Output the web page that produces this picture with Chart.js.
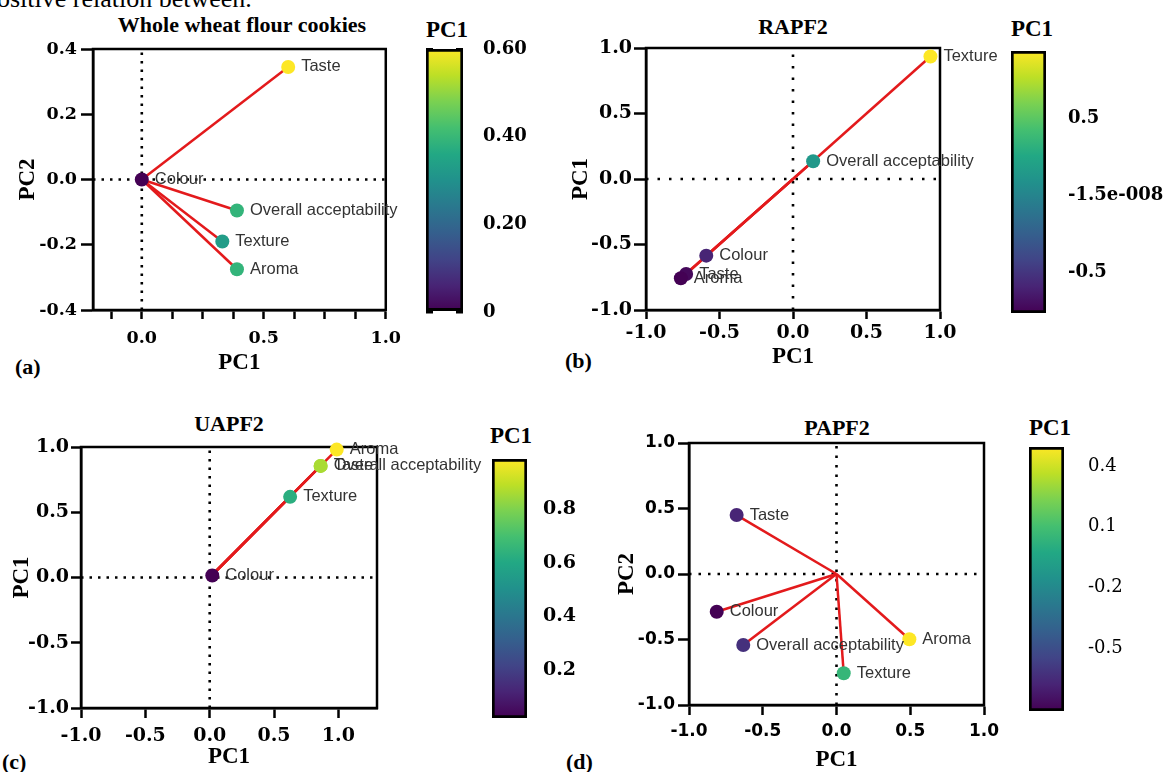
<!DOCTYPE html>
<html lang="en">
<head>
<meta charset="UTF-8">
<title>PCA loading plots</title>
<script src="https://cdn.jsdelivr.net/npm/chart.js@4"></script>
<style>
  body { margin: 0; background: #fff; }
  #page { position: relative; width: 1167px; height: 772px; overflow: hidden; background: #fff; }
  canvas { position: absolute; }
  .txt { position: absolute; white-space: nowrap; color: #000; line-height: 1; }
  .sb { font-family: 'Liberation Serif', 'Times New Roman', serif; font-weight: bold; }
  .ctr { transform: translateX(-50%); }
</style>
</head>
<body>
<div id="page">
  <div class="txt" style="left:-3px; top:-14px; font-family:'Liberation Serif', serif; font-size:26px;">ositive relation between.</div>

  <div class="txt sb ctr" style="left:242px; top:14px; font-size:22px;">Whole wheat flour cookies</div>
  <div class="txt sb ctr" style="left:793px; top:16px; font-size:22px;">RAPF2</div>
  <div class="txt sb ctr" style="left:229px; top:413px; font-size:22px;">UAPF2</div>
  <div class="txt sb ctr" style="left:837px; top:417px; font-size:22px;">PAPF2</div>

  <div class="txt sb ctr" style="left:447px; top:18px; font-size:23px;">PC1</div>
  <div class="txt sb ctr" style="left:1032px; top:17px; font-size:23px;">PC1</div>
  <div class="txt sb ctr" style="left:511px; top:424px; font-size:23px;">PC1</div>
  <div class="txt sb ctr" style="left:1050px; top:416px; font-size:23px;">PC1</div>

  <div class="txt sb" style="left:15px; top:356px; font-size:22px;">(a)</div>
  <div class="txt sb" style="left:565px; top:350px; font-size:22px;">(b)</div>
  <div class="txt sb" style="left:2px; top:751px; font-size:22px;">(c)</div>
  <div class="txt sb" style="left:566px; top:751px; font-size:22px;">(d)</div>

  <canvas id="plotA" width="410" height="380" style="left:0px; top:0px"></canvas>
  <canvas id="barA" width="160" height="380" style="left:410px; top:0px"></canvas>
  <canvas id="plotB" width="470" height="380" style="left:540px; top:0px"></canvas>
  <canvas id="barB" width="167" height="380" style="left:1000px; top:0px"></canvas>
  <canvas id="plotC" width="490" height="382" style="left:0px; top:390px"></canvas>
  <canvas id="barC" width="130" height="382" style="left:480px; top:390px"></canvas>
  <canvas id="plotD" width="440" height="382" style="left:580px; top:390px"></canvas>
  <canvas id="barD" width="147" height="382" style="left:1020px; top:390px"></canvas>
</div>

<script>
  // (a) Whole wheat flour cookies
  const aNames = ['Taste', 'Colour', 'Overall acceptability', 'Texture', 'Aroma'];
  const aPC1 = [0.60, 0.00, 0.39, 0.33, 0.39];
  const aPC2 = [0.345, 0.00, -0.095, -0.19, -0.275];
  const aXTicks = [-0.125, 0, 0.125, 0.25, 0.375, 0.5, 0.625, 0.75, 0.875, 1.0];
  const aXLabels = ['', '0.0', '', '', '', '0.5', '', '', '', '1.0'];
  const aYTicks = [-0.4, -0.2, 0, 0.2, 0.4];
  const aYLabels = ['-0.4', '-0.2', '0.0', '0.2', '0.4'];
  const aBarTicks = [0, 0.2, 0.4, 0.6];
  const aBarLabels = ['0', '0.20', '0.40', '0.60'];

  // (b) RAPF2
  const bNames = ['Texture', 'Overall acceptability', 'Colour', 'Taste', 'Aroma'];
  const bX = [0.935, 0.137, -0.59, -0.727, -0.763];
  const bY = [0.935, 0.136, -0.585, -0.725, -0.758];
  const bBarTicks = [-0.5, -1.5e-8, 0.5];
  const bBarLabels = ['-0.5', '-1.5e-008', '0.5'];

  // (c) UAPF2
  const cNames = ['Aroma', 'Taste', 'Overall acceptability', 'Texture', 'Colour'];
  const cX = [0.987, 0.862, 0.862, 0.625, 0.02];
  const cY = [0.98, 0.855, 0.855, 0.618, 0.015];
  const cBarTicks = [0.2, 0.4, 0.6, 0.8];
  const cBarLabels = ['0.2', '0.4', '0.6', '0.8'];

  // (d) PAPF2
  const dNames = ['Taste', 'Colour', 'Overall acceptability', 'Aroma', 'Texture'];
  const dPC1 = [-0.677, -0.812, -0.632, 0.494, 0.049];
  const dPC2 = [0.45, -0.288, -0.542, -0.498, -0.758];
  const dBarTicks = [-0.5, -0.2, 0.1, 0.4];
  const dBarLabels = ['-0.5', '-0.2', '0.1', '0.4'];

  // shared axis ticks for the -1..1 plots
  const unitTicks = [-1, -0.5, 0, 0.5, 1];
  const unitLabels = ['-1.0', '-0.5', '0.0', '0.5', '1.0'];

  const viridisStops = ['#440154', '#482475', '#414487', '#355f8d', '#2a788e', '#21918c',
                        '#22a884', '#44bf70', '#7ad151', '#bddf26', '#fde725'];

  function hexRgb(h) {
    return [1, 3, 5].map(i => parseInt(h.slice(i, i + 2), 16));
  }

  function viridis(t) {
    t = Math.min(1, Math.max(0, t));
    const s = t * 10;
    const i = Math.min(9, Math.floor(s));
    const f = s - i;
    const a = hexRgb(viridisStops[i]), b = hexRgb(viridisStops[i + 1]);
    const c = a.map((v, k) => Math.round(v + (b[k] - v) * f));
    return 'rgb(' + c.join(',') + ')';
  }

  function barGradient(ctx) {
    const area = ctx.chart.chartArea;
    if (!area) return '#21918c';
    const g = ctx.chart.ctx.createLinearGradient(0, area.bottom, 0, area.top);
    viridisStops.forEach((c, i) => g.addColorStop(i / 10, c));
    return g;
  }

  const titleFont = { family: "'Liberation Serif', 'Times New Roman', serif", weight: 'bold', size: 23, lineHeight: 1 };
  const labelFont = '16.5px "Liberation Sans", Arial, sans-serif';

  // box round the plot area
  const framePlugin = {
    id: 'frame',
    beforeDatasetsDraw(chart) {
      const { ctx, chartArea: a } = chart;
      ctx.save();
      ctx.strokeStyle = '#000';
      ctx.lineWidth = 2.5;
      ctx.strokeRect(a.left, a.top, a.right - a.left, a.bottom - a.top);
      ctx.restore();
    }
  };

  // variable names next to the points
  const pointLabelPlugin = {
    id: 'pointLabels',
    afterDatasetsDraw(chart) {
      const ds = chart.data.datasets[0];
      const meta = chart.getDatasetMeta(0);
      const ctx = chart.ctx;
      ctx.save();
      ctx.font = labelFont;
      ctx.fillStyle = '#333';
      ctx.textAlign = 'left';
      ctx.textBaseline = 'middle';
      meta.data.forEach((el, i) => ctx.fillText(ds.names[i], el.x + 13, el.y));
      ctx.restore();
    }
  };

  function axis(o) {
    return {
      type: 'linear',
      position: o.position,
      min: o.min,
      max: o.max,
      bounds: 'data',
      afterBuildTicks: sc => { sc.ticks = o.ticks.map(v => ({ value: v })); },
      afterFit: sc => {
        if (o.position === 'left') sc.width = o.size; else sc.height = o.size;
      },
      ticks: {
        autoSkip: false, maxRotation: 0, minRotation: 0,
        color: '#000', padding: o.pad, font: o.font,
        callback: (v, i) => o.labels[i]
      },
      grid: { drawOnChartArea: false, drawTicks: true, tickLength: o.tickLength, tickColor: '#000', tickWidth: 2.5 },
      border: { display: true, color: '#000', width: 2.5 },
      title: {
        display: true, text: o.title, color: '#000', font: titleFont,
        padding: o.position === 'left' ? { top: o.titlePad, bottom: 0 } : { top: 0, bottom: o.titlePad }
      }
    };
  }

  function loadingPlot(id, s) {
    const lo = Math.min(...s.x), hi = Math.max(...s.x);
    const colours = s.x.map(v => viridis((v - lo) / (hi - lo)));
    const pts = s.x.map((x, i) => ({ x: x, y: s.y[i] }));
    const rays = pts.map(p => ({
      data: [{ x: 0, y: 0 }, p], showLine: true, borderColor: '#e31a1c', borderWidth: 2.5,
      pointRadius: 0, clip: false
    }));
    const dotted = [
      [{ x: s.xAxis.min, y: 0 }, { x: s.xAxis.max, y: 0 }],
      [{ x: 0, y: s.yAxis.min }, { x: 0, y: s.yAxis.max }]
    ].map(d => ({
      data: d, showLine: true, borderColor: '#000', borderWidth: 2.6,
      borderDash: s.dash, pointRadius: 0, clip: false
    }));

    new Chart(document.getElementById(id), {
      type: 'scatter',
      data: {
        datasets: [{
          data: pts, names: s.names, pointBackgroundColor: colours,
          pointBorderWidth: 0, pointRadius: 7, pointHoverRadius: 7, clip: false
        }, ...rays, ...dotted]
      },
      options: {
        responsive: false,
        animation: false,
        events: [],
        layout: { padding: s.pad },
        plugins: { legend: { display: false }, tooltip: { enabled: false } },
        scales: {
          x: axis(Object.assign({ position: 'bottom', title: 'PC1' }, s.xAxis)),
          y: axis(Object.assign({ position: 'left' }, s.yAxis))
        }
      },
      plugins: [framePlugin, pointLabelPlugin]
    });
  }

  function colourBar(id, o) {
    const lo = Math.min(...o.values), hi = Math.max(...o.values);
    new Chart(document.getElementById(id), {
      type: 'bar',
      data: {
        labels: ['PC1'],
        datasets: [{
          data: [[lo, hi]], backgroundColor: barGradient, borderColor: '#000',
          borderWidth: 3, borderSkipped: false, barPercentage: 1, categoryPercentage: 1
        }]
      },
      options: {
        responsive: false,
        animation: false,
        events: [],
        layout: { padding: o.pad },
        plugins: { legend: { display: false }, tooltip: { enabled: false } },
        scales: {
          x: { display: false },
          y: {
            position: 'right', min: lo, max: hi, bounds: 'data', beginAtZero: false, z: 1,
            afterBuildTicks: sc => { sc.ticks = o.ticks.map(v => ({ value: v })); },
            afterFit: sc => { sc.width = o.axisWidth; },
            ticks: { color: '#000', padding: o.labelPad, font: o.font, autoSkip: false, callback: (v, i) => o.labels[i] },
            grid: { drawOnChartArea: true, drawTicks: false, color: '#000', lineWidth: 2.5 },
            border: { display: false, dash: [7, o.barWidth - 14] }
          }
        }
      }
    });
  }

  const serifBold17 = { family: "'DejaVu Serif', serif", weight: 'bold', size: 17.5 };
  const serifBold18 = { family: "'DejaVu Serif', serif", weight: 'bold', size: 18 };
  const serifBold19 = { family: "'DejaVu Serif', serif", weight: 'bold', size: 19 };
  const sansBold17 = { family: "'DejaVu Sans', sans-serif", weight: 'bold', size: 17 };
  const serif18 = { family: "'DejaVu Serif', serif", weight: 'normal', size: 18 };

  loadingPlot('plotA', {
    names: aNames, x: aPC1, y: aPC2, dash: [2.5, 6],
    pad: { top: 49, right: 22, left: 0, bottom: 0 },
    xAxis: { min: -0.2, max: 1.0, ticks: aXTicks, labels: aXLabels, size: 70, tickLength: 9, pad: 9, font: serifBold17, titlePad: 5.5 },
    yAxis: { min: -0.4, max: 0.4, ticks: aYTicks, labels: aYLabels, size: 93, tickLength: 12, pad: 4, font: serifBold17, title: 'PC2', titlePad: 16.5 }
  });
  colourBar('barA', {
    values: aPC1, ticks: aBarTicks, labels: aBarLabels, font: serifBold18,
    pad: { left: 16, top: 49, right: 0, bottom: 68 }, axisWidth: 107, barWidth: 37, labelPad: 20
  });

  loadingPlot('plotB', {
    names: bNames, x: bX, y: bY, dash: [2.5, 9],
    pad: { top: 48, right: 70, left: 0, bottom: 0 },
    xAxis: { min: -1, max: 1, ticks: unitTicks, labels: unitLabels, size: 70, tickLength: 9, pad: 3, font: serifBold19, titlePad: 11.5 },
    yAxis: { min: -1, max: 1, ticks: unitTicks, labels: unitLabels, size: 106, tickLength: 12, pad: 2, font: serifBold19, title: 'PC1', titlePad: 29.5 }
  });
  colourBar('barB', {
    values: bX, ticks: bBarTicks, labels: bBarLabels, font: serifBold18,
    pad: { left: 11, top: 51, right: 0, bottom: 67 }, axisWidth: 121, barWidth: 35, labelPad: 22
  });

  loadingPlot('plotC', {
    names: cNames, x: cX, y: cY, dash: [2.5, 6],
    pad: { top: 57, right: 113, left: 0, bottom: 0 },
    xAxis: { min: -1, max: 1.3, ticks: unitTicks, labels: unitLabels, size: 64, tickLength: 10, pad: 7, font: serifBold19, titlePad: 3.5 },
    yAxis: { min: -1, max: 1, ticks: unitTicks, labels: unitLabels, size: 81, tickLength: 10, pad: 2, font: serifBold19, title: 'PC1', titlePad: 10.5 }
  });
  colourBar('barC', {
    values: cX, ticks: cBarTicks, labels: cBarLabels, font: serifBold19,
    pad: { left: 12, top: 69, right: 0, bottom: 54 }, axisWidth: 83, barWidth: 35, labelPad: 16
  });

  loadingPlot('plotD', {
    names: dNames, x: dPC1, y: dPC2, dash: [2.5, 7],
    pad: { top: 53, right: 36, left: 0, bottom: 0 },
    xAxis: { min: -1, max: 1, ticks: unitTicks, labels: unitLabels, size: 67, tickLength: 10, pad: 6, font: sansBold17, titlePad: 0 },
    yAxis: { min: -1, max: 1, ticks: unitTicks, labels: unitLabels, size: 109, tickLength: 11, pad: 3, font: sansBold17, title: 'PC2', titlePad: 35.5 }
  });
  colourBar('barD', {
    values: dPC1, ticks: dBarTicks, labels: dBarLabels, font: serif18,
    pad: { left: 9, top: 57, right: 0, bottom: 61 }, axisWidth: 103, barWidth: 35, labelPad: 24
  });
</script>
</body>
</html>
